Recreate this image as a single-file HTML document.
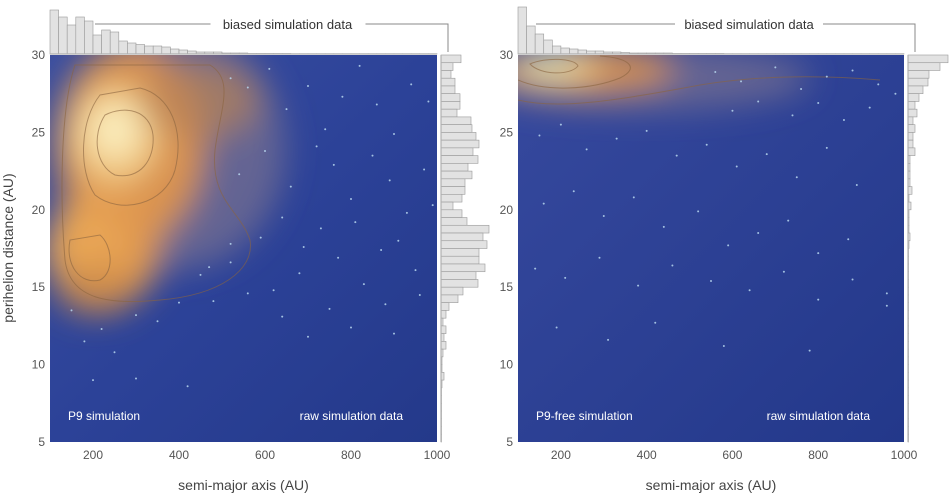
<!DOCTYPE html>
<html><head><meta charset="utf-8"><style>
html,body{margin:0;padding:0;background:#fff;}
svg{display:block;font-family:"Liberation Sans",sans-serif;}
</style></head><body>
<svg id="chart" width="950" height="497" viewBox="0 0 950 497" xmlns="http://www.w3.org/2000/svg">
<defs>
<filter id="blur1" x="-50%" y="-50%" width="200%" height="200%"><feGaussianBlur stdDeviation="16"/></filter>
<clipPath id="clipL"><rect x="50" y="55" width="387" height="387"/></clipPath>
<clipPath id="clipR"><rect x="518" y="55" width="386" height="387"/></clipPath>
<linearGradient id="bgL" x1="0" y1="0" x2="1" y2="1"><stop offset="0" stop-color="#3a4ea0"/><stop offset="0.5" stop-color="#2c4298"/><stop offset="1" stop-color="#24398a"/></linearGradient>
<linearGradient id="bgR" x1="0" y1="0" x2="1" y2="1"><stop offset="0" stop-color="#36499e"/><stop offset="1" stop-color="#23388a"/></linearGradient>
</defs>
<g id="left"></g>
<g id="right"></g>
</svg>
<script>
// ---- data ----
const xTicks = [200, 400, 600, 800, 1000];
const yTicks = [5, 10, 15, 20, 25, 30];
const topHistP9 = [44,37,29,37,33,19,24,22,13,11,9.5,8,8,7,5,4,3,2,2,2,1,1,1,0.5,0.5,0.5,0.5,0.5,0.3,0.3,0.3,0.3,0.3,0.3,0.3,0.3,0.3,0.3,0.3,0.3,0.3,0.3,0.3,0.3,0.3];
const topHistFree = [47,28,20,14,8,6,5,4,3,3,2,2,1.5,1,1,1,1,1,0.5,0.5,0.5,0.5,0.5,0.5,0.3,0.3,0.3,0.3,0.3,0.3,0.3,0.3,0.3,0.3,0.3,0.3,0.3,0.3,0.3,0.3,0.3,0.3,0.3,0.3,0.3];
const sideHistP9 = [20,12,10,14,14,19,19,16,30,31,35,38,32,37,27,31,24,24,21,12,21,26,48,42,46,38,38,44,35,37,22,17,8,5,2,5,3,5,2,1,1,3,1,0.5,0.5,0.5,0.5,0.5,0.5,0.5];
const sideHistFree = [40,32,21,20,15,11,7,9,5,7,5,5,7,2,2,2,2,4,1,3,1,1,1,2,1,0.5,0.5,0.5,0.5,0.5,0.5,0.5,0.5,0.5,0.5,0.5,0.5,0.5,0.5,0.5,0.5,0.5,0.5,0.5,0.5,0.5,0.5,0.5,0.5,0.5];
const ptsA_P9 = [520,560,610,650,700,740,780,820,860,900,940,980,540,600,660,720,760,800,850,890,930,970,590,640,690,730,770,810,870,910,950,990,620,680,750,830,880,960,700,800,900,450,480,520,300,350,400,250,200,180,220,150,300,420,560,640,520,470];
const ptsQ_P9 = [28.5,27.9,29.1,26.5,28.0,25.2,27.3,29.3,26.8,24.9,28.1,27.0,22.3,23.8,21.5,24.1,22.9,20.7,23.5,21.9,19.8,22.6,18.2,19.5,17.6,18.8,16.9,19.2,17.4,18.0,16.1,20.3,14.8,15.9,13.6,15.2,13.9,14.5,11.8,12.4,12.0,15.8,14.1,16.6,13.2,12.8,14.0,10.8,9.0,11.5,12.3,13.5,9.1,8.6,14.6,13.1,17.8,16.3];
const ptsA_Free = [560,620,700,760,820,880,940,980,600,660,740,800,860,920,150,200,260,330,400,470,540,610,680,750,820,890,160,230,300,370,440,520,590,660,730,800,870,140,210,290,380,460,550,640,720,800,880,960,190,310,420,580,780,960];
const ptsQ_Free = [28.9,28.3,29.2,27.8,28.6,29.0,28.1,27.5,26.4,27.0,26.1,26.9,25.8,26.6,24.8,25.5,23.9,24.6,25.1,23.5,24.2,22.8,23.6,22.1,24.0,21.6,20.4,21.2,19.6,20.8,18.9,19.9,17.7,18.5,19.3,17.2,18.1,16.2,15.6,16.9,15.1,16.4,15.4,14.8,16.0,14.2,15.5,14.6,12.4,11.6,12.7,11.2,10.9,13.8];

const NS='http://www.w3.org/2000/svg';
function mk(parent, tag, attrs){const e=document.createElementNS(NS,tag);for(const k in attrs)e.setAttribute(k,attrs[k]);parent.appendChild(e);return e;}

function panel(gid, x0, x1, hist, side, ptsA, ptsQ, title, blobs, contours, isLeft){
  const g=document.getElementById(gid);
  const y0=55, y1=442;
  const xs=a=>x0+(a-100)/900*(x1-x0);
  const ys=q=>y1-(q-5)/25*(y1-y0);
  const bgG=mk(g,'g',{'clip-path':'url(#clip'+(isLeft?'L':'R')+')'});
  
  
  mk(bgG,'rect',{x:x0,y:y0,width:x1-x0,height:y1-y0,fill:isLeft?'url(#bgL)':'url(#bgR)'});
  const bl=mk(bgG,'g',{filter:'url(#blur1)'});
  blobs.forEach(b=>mk(bl,'ellipse',{cx:b[0],cy:b[1],rx:b[2],ry:b[3],fill:b[4],opacity:b[5]}));
  contours.forEach(c=>mk(bgG,'path',{d:c,fill:'none',stroke:'#8a6440',"stroke-width":1,opacity:0.6}));
  const pg=mk(bgG,'g',{});
  
  
  for(let i=0;i<ptsA.length;i++){
    const c=mk(pg,'circle',{cx:xs(ptsA[i]),cy:ys(ptsQ[i]),r:1,fill:'#b8d8f0',opacity:0.85});
    
    
  }
  const t1=mk(g,'text',{x:x0+18,y:420,fill:'#fff','font-size':12});t1.textContent=title;
  
  
  const t2=mk(g,'text',{x:x1-34,y:420,fill:'#fff','font-size':12,'text-anchor':'end'});t2.textContent='raw simulation data';
  
  
  xTicks.forEach(v=>{const t=mk(g,'text',{x:xs(v),y:459,fill:'#555','font-size':12,'text-anchor':'middle'});t.textContent=v;
    
    });
  yTicks.forEach(v=>{const t=mk(g,'text',{x:x0-5,y:ys(v)+4,fill:'#555','font-size':12,'text-anchor':'end'});t.textContent=v;
    
    });
  const xl=mk(g,'text',{x:(x0+x1)/2,y:490,fill:'#444','font-size':14,'text-anchor':'middle'});xl.textContent='semi-major axis (AU)';
  
  
  const th=mk(g,'g',{});
  
  
  const bw=(x1-x0)/45;
  hist.forEach((h,i)=>{const r=mk(th,'rect',{x:x0+i*bw,y:54-h,width:bw,height:h,fill:'#e2e2e2',stroke:'#9a9a9a','stroke-width':0.6});
    
    });
  mk(th,'line',{x1:x0,y1:54,x2:x1,y2:54,stroke:'#b0b0b0','stroke-width':1.2});
  const sh=mk(g,'g',{});
  
  
  const sx=x1+4, bh=(y1-y0)/50;
  side.forEach((w,i)=>{const r=mk(sh,'rect',{x:sx,y:y0+i*bh,width:w,height:bh,fill:'#e2e2e2',stroke:'#9a9a9a','stroke-width':0.6});
    
    });
  mk(sh,'line',{x1:sx,y1:y0,x2:sx,y2:y1,stroke:'#b0b0b0','stroke-width':1.2});
  const lx=x1+11;
  const bk=mk(g,'path',{d:`M${x0+(isLeft?45:18)} 24 H${(x0+x1)/2+ (isLeft?-33:-36)} M${(x0+x1)/2+(isLeft?122:112)} 24 H${lx} V52`,fill:'none',stroke:'#888','stroke-width':1});
  
  
  const bt=mk(g,'text',{x:(x0+x1)/2+(isLeft?44:38),y:29,fill:'#333','font-size':13,'text-anchor':'middle'});bt.textContent='biased simulation data';
  
  
}

panel('left',50,437,topHistP9,sideHistP9,ptsA_P9,ptsQ_P9,'P9 simulation',
 [[175,150,110,120,'#7a7290',0.7],[130,145,75,100,'#d99250',1],[105,245,55,65,'#e09850',1],[85,250,40,45,'#e8a555',1],[115,135,45,50,'#f0c680',1],[115,130,25,28,'#fbeebe',1],[200,100,60,40,'#b88255',0.7],[95,290,40,25,'#c68548',0.7]],
 ['M75 65 C60 110 60 200 65 260 C70 300 110 305 160 300 C220 295 255 270 250 240 C240 210 210 200 215 150 C220 110 235 80 210 65 Z',
  'M100 95 C80 120 78 170 95 195 C120 215 165 205 175 170 C185 130 170 95 140 88 Z',
  'M105 115 C92 135 95 165 115 175 C140 180 155 160 153 135 C150 110 125 105 105 115 Z',
  'M70 240 C65 265 80 285 100 280 C115 272 112 245 100 235 Z'], true);
panel('right',518,904,topHistFree,sideHistFree,ptsA_Free,ptsQ_Free,'P9-free simulation',
 [[640,78,170,32,'#7a7290',0.7],[585,70,90,24,'#d69050',0.95],[555,66,45,16,'#f2cf8a',1],[550,65,22,9,'#cfe3c0',1]],
 ['M518 100 C560 110 620 100 700 85 C760 75 820 75 880 80',
  'M518 80 C545 92 590 90 620 78 C640 68 630 58 600 56',
  'M530 64 C540 75 570 76 578 66 C575 58 545 57 530 64 Z'], false);

const yl=document.createElementNS(NS,'text');
yl.setAttribute('x',0);yl.setAttribute('y',0);
yl.setAttribute('transform','translate(13,248) rotate(-90)');
yl.setAttribute('font-size',14);yl.setAttribute('fill','#444');yl.setAttribute('text-anchor','middle');
yl.textContent='perihelion distance (AU)';


document.getElementById('chart').appendChild(yl);
</script>
</body></html>
